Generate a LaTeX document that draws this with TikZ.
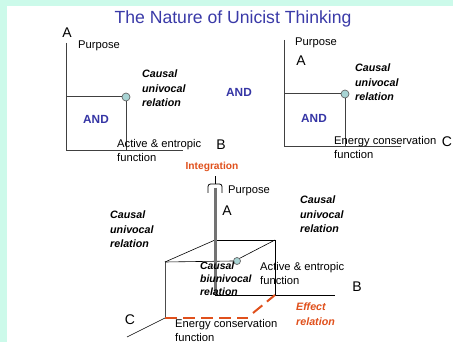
\documentclass[tikz,border=0pt]{standalone}
\usepackage{fontspec}
\setmainfont{Liberation Sans}
\definecolor{mint}{HTML}{CCFAEA}
\definecolor{ttlblue}{HTML}{3A3AA8}
\definecolor{andblue}{HTML}{3535A5}
\definecolor{orng}{HTML}{E0501C}
\definecolor{dotfill}{HTML}{A8D4D4}
\tikzset{
  txt/.style={font=\fontsize{11.2}{13.8}\selectfont, inner sep=0pt, align=left},
  cur/.style={txt, font=\fontsize{10.7}{14.3}\selectfont\bfseries\itshape},
  andt/.style={font=\fontsize{11.8}{13}\selectfont\bfseries, text=andblue, inner sep=0pt},
  letter/.style={font=\fontsize{14}{16}\selectfont, inner sep=0pt},
  ax/.style={draw=black!75, line width=1pt},
  dot/.style={circle, draw=black!60, fill=dotfill, minimum size=8pt, inner sep=0pt, line width=0.7pt},
}
\begin{document}
\begin{tikzpicture}[x=1pt,y=-1pt]
\useasboundingbox (0,0) rectangle (453,342);
\fill[mint] (0,0) rectangle (453,342);
\fill[white] (7,6) rectangle (453,342);

\node[font=\fontsize{17.6}{20}\selectfont, text=ttlblue, inner sep=0pt] (title) at (233,19) {The Nature of Unicist Thinking};

% left panel
\coordinate (lo) at (66,151);
\coordinate (ltop) at (66,43);
\coordinate (lend) at (183,151);
\coordinate (lh) at (66,97);
\coordinate (lb) at (126,151);
\draw[ax] (ltop) -- (lo) -- (lend);
\node[dot] (ldot) at (126,97) {};
\draw[ax] (lh) -- (ldot.west);
\draw[ax] (ldot.south) -- (lb);
\node[letter] (lA) at (67,33) {A};
\node[txt, anchor=west] (lpur) at (78,46) {Purpose};
\node[cur, anchor=north west] (lcur) at (142,70) {Causal\\univocal\\relation};
\node[andt] (land) at (96,119) {AND};
\node[txt, anchor=north west] (lact) at (117,139) {Active \& entropic\\function};
\node[letter] (lB) at (221,145) {B};

\node[andt] (mand) at (239,92) {AND};

% right panel
\coordinate (ro) at (284,147);
\coordinate (rtop) at (284,40);
\coordinate (rend) at (401,147);
\coordinate (rh) at (284,94);
\coordinate (rb) at (345,147);
\draw[ax] (rtop) -- (ro) -- (rend);
\node[dot] (rdot) at (345,94) {};
\draw[ax] (rh) -- (rdot.west);
\draw[ax] (rdot.south) -- (rb);
\node[txt, anchor=west] (rpur) at (295,43) {Purpose};
\node[letter] (rA) at (301,61) {A};
\node[cur, anchor=north west] (rcur) at (355,64) {Causal\\univocal\\relation};
\node[andt] (rand) at (314,118) {AND};
\node[txt, anchor=north west] (ren) at (334,136) {Energy conservation\\function};
\node[letter] (rC) at (447,142) {C};

% bottom 3D
\node[font=\fontsize{10.2}{11}\selectfont\bfseries, text=orng, inner sep=0pt] (integ) at (212,167) {Integration};
\coordinate (o) at (215,295);
\coordinate (atop) at (215,188);
\coordinate (bend) at (335,295);
\coordinate (cend) at (127,337);
\coordinate (ftl) at (165,262);
\coordinate (fbl) at (165,318);
\coordinate (btl) at (215,240);
\coordinate (btr) at (275,240);
\coordinate (bbr) at (275,295);
\coordinate (dmid) at (248,318);
\coordinate (dmid2) at (253,313);
\coordinate (brl) at (208,193);
\coordinate (brr) at (222,193);
\coordinate (stemtop) at (215,176);
\coordinate (stembot) at (215,184);

\draw[line width=0.8pt, rounded corners=2.5pt] (brl) |- (stembot) -| (brr);
\draw[line width=0.8pt] (stembot) -- (stemtop);

\draw[black, line width=0.6pt] (o) -- (bend);
\draw[black, line width=0.6pt] (fbl) -- (cend);
\draw[black, line width=0.6pt] (btl) -- (btr) -- (bbr);
\draw[black, line width=0.6pt] (ftl) -- (btl);
\draw[black!70, line width=1pt] (ftl) -- (fbl);
\node[dot, minimum size=7pt] (bdot) at (237,261) {};
\draw[black, line width=0.6pt] (ftl) -- (bdot.west);
\draw[black, line width=0.6pt] (bdot.north east) -- (btr);
\draw[black!55, line width=3pt] (atop) -- (o);
\draw[orng, line width=2pt, dash pattern=on 12pt off 6pt] (fbl) -- (dmid);
\draw[orng, line width=2pt, dash pattern=on 12pt off 6pt] (dmid2) -- (bbr);

\node[letter] (bA) at (227,211) {A};
\node[txt, anchor=west] (bpur) at (228,191) {Purpose};
\node[cur, anchor=north west] (bcl) at (110,211) {Causal\\univocal\\relation};
\node[cur, anchor=north west] (bcr) at (300,196) {Causal\\univocal\\relation};
\node[cur, anchor=north west, font=\fontsize{10.4}{13}\selectfont\bfseries\itshape] (bcb) at (200,262) {Causal\\biunivocal\\relation};
\node[txt, anchor=north west] (bact) at (260,262) {Active \& entropic\\function};
\node[letter] (bB) at (357,287) {B};
\node[letter] (bC) at (130,320) {C};
\node[txt, anchor=north west] (ben) at (175,319) {Energy conservation\\function};
\node[cur, anchor=north west, text=orng] (eff) at (296,303) {Effect\\relation};
\end{tikzpicture}
\end{document}
